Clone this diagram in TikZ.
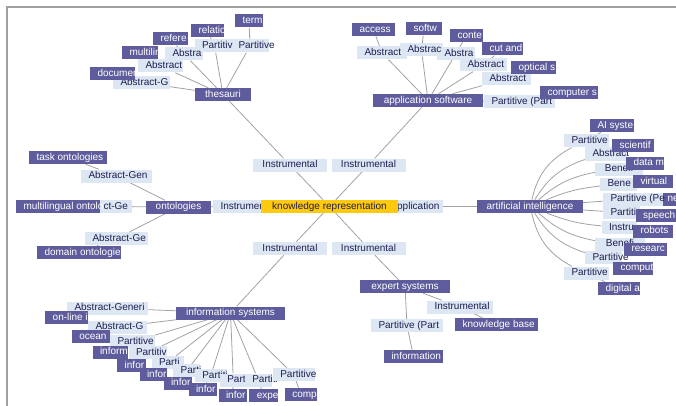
\documentclass[tikz,border=0pt]{standalone}
\usepackage{fontspec}
\setmainfont{Liberation Sans}
\usetikzlibrary{backgrounds,arrows.meta}
\definecolor{dk}{HTML}{5E5C9C}
\definecolor{lt}{HTML}{DCE7F3}
\definecolor{yl}{HTML}{FFC90E}
\definecolor{ln}{HTML}{A3A3A3}
\definecolor{tx}{HTML}{1E1E50}
\definecolor{fr}{HTML}{A0A0A0}
\newlength\kbw
\newcommand\kfit[2]{\settowidth\kbw{#2}%
  \ifdim\kbw>#1\relax\makebox[#1][l]{#2}\else\makebox[#1][c]{#2}\fi}
\newcommand\leaficon[1]{%
  \fill[white] ([xshift=-7.5pt,yshift=0.6pt]#1.south east) rectangle ([xshift=-0.6pt,yshift=7pt]#1.south east);
  \draw[dk, line width=0.6pt, -{Stealth[length=2pt,width=2.6pt]}] ([xshift=-6.6pt,yshift=3.6pt]#1.south east) -- ([xshift=-1.4pt,yshift=3.6pt]#1.south east);}
\newcommand\minusicon[1]{%
  \fill[white!80!lt] ([xshift=-8pt,yshift=0.8pt]#1.south east) rectangle ([xshift=-1pt,yshift=6.5pt]#1.south east);
  \draw[gray, line width=0.6pt] ([xshift=-7pt,yshift=2pt]#1.south east) -- ([xshift=-2pt,yshift=2pt]#1.south east);}
\tikzset{
  base/.style={rectangle, inner xsep=3pt, inner ysep=0pt, minimum height=13pt,
    text height=7.2pt, text depth=2pt, font=\fontsize{10}{12}\selectfont},
  leaf/.style={base, fill=dk, text=white, append after command={\pgfextra{\leaficon{\tikzlastnode}}}},
  hub/.style={base, fill=dk, text=white, append after command={\pgfextra{\minusicon{\tikzlastnode}}}},
  rel/.style={base, fill=lt, text=tx, append after command={\pgfextra{\minusicon{\tikzlastnode}}}},
  core/.style={base, fill=yl, text=tx, append after command={\pgfextra{\minusicon{\tikzlastnode}}}},
  link/.style={draw=ln, line width=0.8pt},
  frameline/.style={draw=fr, line width=1.4pt},
}
\newcommand\kbox[6]{\node[#1, minimum width=#5pt] (#2) at (#3,#4)
  {\kfit{\dimexpr#5pt-15pt\relax}{#6}\hspace{9pt}};}
\begin{document}
\begin{tikzpicture}[x=1pt,y=-1pt]
\useasboundingbox (0,0) rectangle (676,406);
% partly hidden leaf
\kbox{leaf}{ne}{669}{199}{18}{ne}
% main relation labels
\kbox{rel}{I1}{290}{165}{74}{Instrumental}
\kbox{rel}{I2}{368.5}{165}{74}{Instrumental}
\kbox{rel}{I3}{290}{248.5}{74}{Instrumental}
\kbox{rel}{I4}{368.5}{248.5}{74}{Instrumental}
\kbox{rel}{Iont}{244}{206.5}{62}{Instrumental}
\kbox{rel}{Appl}{413}{206.5}{60}{Application}
% thesauri labels
\kbox{rel}{tP1}{250}{46}{38}{Partitive}
\kbox{rel}{tP2}{214.5}{46}{40}{Partitiv}
\kbox{rel}{tA1}{184}{54}{38}{Abstra}
\kbox{rel}{tA2}{160.5}{66}{45}{Abstract}
\kbox{rel}{tA3}{141.5}{82.5}{57}{Abstract-G}
% application software labels
\kbox{rel}{aA3}{456}{53.5}{38}{Abstra}
\kbox{rel}{aA2}{421.5}{50}{43}{Abstrac}
\kbox{rel}{aA1}{382}{53}{50}{Abstract}
\kbox{rel}{aA4}{483.5}{65}{47}{Abstract}
\kbox{rel}{aA5}{506.5}{79}{49}{Abstract}
\kbox{rel}{aP}{519.5}{101.5}{71}{Partitive (Part}
% AI labels
\kbox{rel}{xP1}{586.5}{141}{45}{Partitive}
\kbox{rel}{xA}{606}{154}{42}{Abstract}
\kbox{rel}{xB1}{619}{169}{48}{Benefi}
\kbox{rel}{xB2}{618.5}{184}{37}{Bene}
\kbox{rel}{xP2}{633}{199}{60}{Partitive (Pe}
\kbox{rel}{xP3}{621.5}{212.5}{37}{Partitiv}
\kbox{rel}{xI}{619}{227.5}{35}{Instru}
\kbox{rel}{xB3}{620}{244}{50}{Benefi}
\kbox{rel}{xP4}{603.5}{257.5}{37}{Partitive}
\kbox{rel}{xP5}{586.5}{273}{45}{Partitive}
% ontologies labels
\kbox{rel}{oA1}{116.5}{176}{71}{Abstract-Gen}
\kbox{rel}{oA2}{114}{206.5}{36}{ct-Ge}
\kbox{rel}{oA3}{116.5}{238.5}{63}{Abstract-Ge}
% information systems labels
\kbox{rel}{iA1}{107.5}{308}{81}{Abstract-Generi}
\kbox{rel}{iA2}{117.5}{327}{59}{Abstract-G}
\kbox{rel}{iP1}{132.5}{341.7}{45}{Partitive}
\kbox{rel}{iP2}{147.5}{352.8}{38}{Partitiv}
\kbox{rel}{iP3}{167.5}{362.5}{32}{Parti}
\kbox{rel}{iP4}{186.7}{370.8}{27}{Parti}
\kbox{rel}{iP5}{210.8}{375.5}{32}{Partiti}
\kbox{rel}{iP6}{233.3}{380}{27}{Parti}
\kbox{rel}{iP7}{258.3}{380}{27}{Partiti}
\kbox{rel}{iP8}{293.8}{374.5}{42}{Partitive}
% expert systems labels
\kbox{rel}{eI}{460}{307}{66}{Instrumental}
\kbox{rel}{eP}{407}{325.5}{72}{Partitive (Part}
% leaves
\kbox{leaf}{term}{249}{21}{28}{term}
\kbox{leaf}{relatio}{207.5}{30.5}{33}{relatio}
\kbox{leaf}{refere}{170.5}{39}{35}{refere}
\kbox{leaf}{multilin}{140}{53}{36}{multilin}
\kbox{leaf}{documen}{112.5}{73.5}{45}{documen}
\kbox{leaf}{access}{373.5}{29.5}{43}{access}
\kbox{leaf}{softw}{424}{29}{36}{softw}
\kbox{leaf}{conte}{466.5}{35.5}{33}{conte}
\kbox{leaf}{cutand}{502.5}{49}{41}{cut and}
\kbox{leaf}{optical}{533.5}{68}{45}{optical s}
\kbox{leaf}{computer}{569}{92.5}{58}{computer s}
\kbox{leaf}{AIs}{612}{125.5}{44}{AI syste}
\kbox{leaf}{scientif}{633}{145.5}{42}{scientif}
\kbox{leaf}{datami}{645}{163}{38}{data mi}
\kbox{leaf}{virtual}{653}{181.5}{40}{virtual}
\kbox{leaf}{speech}{656}{215.5}{41}{speech}
\kbox{leaf}{robots}{653}{231}{40}{robots}
\kbox{leaf}{researc}{645.5}{249}{43}{researc}
\kbox{leaf}{comput}{633}{268}{40}{comput}
\kbox{leaf}{digital}{619}{288.5}{42}{digital a}
\kbox{leaf}{task}{68}{157.5}{78}{task ontologies}
\kbox{leaf}{multi}{58}{206.5}{84}{multilingual ontolo}
\kbox{leaf}{domain}{79}{252.5}{84}{domain ontologie}
\kbox{leaf}{online}{66.7}{317.8}{43}{on-line i}
\kbox{leaf}{ocean}{90.8}{336.5}{38}{ocean}
\kbox{leaf}{inf1}{110}{352.2}{35}{inform}
\kbox{leaf}{inf2}{131.7}{365.5}{29}{infor}
\kbox{leaf}{inf3}{153}{374.5}{27}{infor}
\kbox{leaf}{inf4}{177.5}{383.2}{28}{infor}
\kbox{leaf}{inf5}{202.5}{389.7}{28}{infor}
\kbox{leaf}{inf6}{232.5}{395.8}{28}{infor}
\kbox{leaf}{expe}{263.8}{395.5}{29}{expe}
\kbox{leaf}{comp}{300.8}{394.5}{32}{comp}
\kbox{leaf}{kb}{496.5}{324.5}{83}{knowledge base}
\kbox{leaf}{info}{413.5}{356.5}{59}{information}
% hubs
\kbox{hub}{thes}{223}{94.5}{56}{thesauri}
\kbox{hub}{app}{428}{100.5}{110}{application software}
\kbox{hub}{ont}{178.5}{207}{65}{ontologies}
\kbox{hub}{AI}{530}{206.5}{106}{artificial intelligence}
\kbox{hub}{infosys}{230.5}{313}{109}{information systems}
\kbox{hub}{expert}{405}{286.5}{90}{expert systems}
% centre
\kbox{core}{kr}{329.5}{206.5}{137}{knowledge representation}
\begin{pgfonlayer}{background}
\fill[white] (0,0) rectangle (676,406);
\draw[frameline] (7,406) -- (7,7) -- (676,7);
\draw[link] (kr) -- (I1) -- (thes);
\draw[link] (kr) -- (I2) -- (app);
\draw[link] (kr) -- (I3) -- (infosys);
\draw[link] (kr) -- (I4) -- (expert);
\draw[link] (kr) -- (Iont) -- (ont);
\draw[link] (kr) -- (Appl) -- (AI);
\draw[link] (thes) -- (tP1) -- (term);
\draw[link] (thes) -- (tP2) -- (relatio);
\draw[link] (thes) -- (tA1) -- (refere);
\draw[link] (thes) -- (tA2) -- (multilin);
\draw[link] (thes) -- (tA3) -- (documen);
\draw[link] (app) -- (aA1) -- (access);
\draw[link] (app) -- (aA2) -- (softw);
\draw[link] (app) -- (aA3) -- (conte);
\draw[link] (app) -- (aA4) -- (cutand);
\draw[link] (app) -- (aA5) -- (optical);
\draw[link] (app) -- (aP) -- (computer);
\draw[link] (AI) to[bend left=25] (xP1) (xP1) -- (AIs);
\draw[link] (AI) to[bend left=20] (xA) (xA) -- (scientif);
\draw[link] (AI) to[bend left=15] (xB1) (xB1) -- (datami);
\draw[link] (AI) to[bend left=8] (xB2) (xB2) -- (virtual);
\draw[link] (AI) -- (xP2) -- (ne);
\draw[link] (AI) -- (xP3) -- (speech);
\draw[link] (AI) to[bend right=8] (xI) (xI) -- (robots);
\draw[link] (AI) to[bend right=15] (xB3) (xB3) -- (researc);
\draw[link] (AI) to[bend right=20] (xP4) (xP4) -- (comput);
\draw[link] (AI) to[bend right=25] (xP5) (xP5) -- (digital);
\draw[link] (ont) -- (oA1) -- (task);
\draw[link] (ont) -- (oA2) -- (multi);
\draw[link] (ont) -- (oA3) -- (domain);
\draw[link] (infosys) -- (iA1) -- (online);
\draw[link] (infosys) -- (iA2) -- (ocean);
\draw[link] (infosys) -- (iP1) -- (inf1);
\draw[link] (infosys) -- (iP2) -- (inf2);
\draw[link] (infosys) -- (iP3) -- (inf3);
\draw[link] (infosys) -- (iP4) -- (inf4);
\draw[link] (infosys) -- (iP5) -- (inf5);
\draw[link] (infosys) -- (iP6) -- (inf6);
\draw[link] (infosys) -- (iP7) -- (expe);
\draw[link] (infosys) -- (iP8) -- (comp);
\draw[link] (expert) -- (eI) -- (kb);
\draw[link] (expert) -- (eP) -- (info);
\end{pgfonlayer}
\end{tikzpicture}
\end{document}
